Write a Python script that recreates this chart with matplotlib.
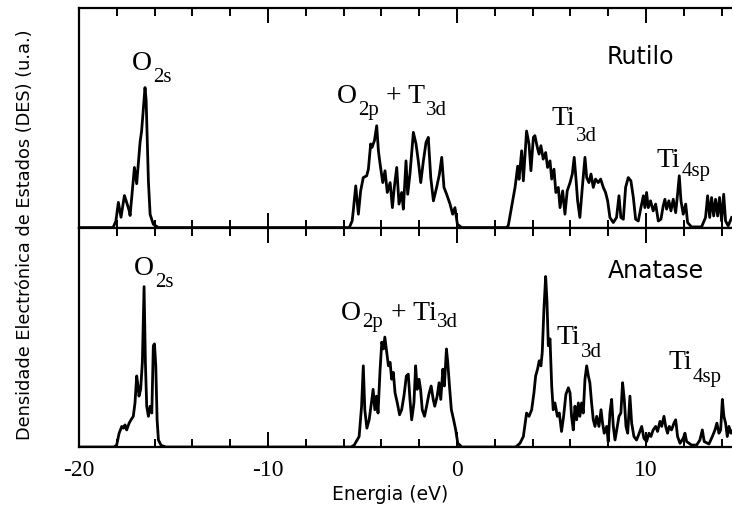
import matplotlib
matplotlib.use('Agg')
import matplotlib.pyplot as plt
from matplotlib.ticker import MultipleLocator

# density of states (arbitrary units, 0-100 = panel height)
rutile_e = [-20, -18.2, -18.05, -17.92, -17.78, -17.6, -17.5, -17.35, -17.3, -17.07, -16.95,
            -16.77, -16.69, -16.51, -16.45, -16.33, -16.24, -16.07, -15.8,
            -5.7, -5.55, -5.49, -5.36, -5.22, -5.1, -4.96, -4.78, -4.69, -4.57, -4.5, -4.37,
            -4.25, -4.16, -4.07, -3.93, -3.81, -3.69, -3.54, -3.42, -3.32, -3.19, -3.07,
            -2.93, -2.84, -2.70, -2.61, -2.49, -2.31, -2.17, -2.05, -1.92, -1.78, -1.64,
            -1.52, -1.39, -1.25, -1.08, -0.93, -0.81, -0.69, -0.55, -0.37, -0.23, -0.11,
            0.02, 0.25,
            2.6, 2.71, 3.07, 3.21, 3.28, 3.42, 3.51, 3.68, 3.81, 3.91, 4.04, 4.12, 4.25,
            4.34, 4.44, 4.56, 4.69, 4.79, 4.92, 5.01, 5.13, 5.23, 5.36, 5.45, 5.59, 5.71,
            5.83, 5.98, 6.10, 6.20, 6.29, 6.38, 6.50, 6.63, 6.77, 6.86, 6.98, 7.09, 7.21,
            7.33, 7.47, 7.60, 7.74, 7.86, 7.97, 8.09, 8.27, 8.44, 8.57, 8.67, 8.80, 8.92,
            9.06, 9.20, 9.33, 9.45, 9.59, 9.73, 9.86, 9.94, 10.03, 10.12, 10.24, 10.38,
            10.51, 10.65, 10.79, 10.91, 11.00, 11.09, 11.21, 11.32, 11.44, 11.57, 11.67,
            11.76, 11.85, 11.97, 12.10, 12.20, 12.41, 12.94, 13.15, 13.26, 13.37, 13.47,
            13.58, 13.68, 13.79, 13.89, 14.0, 14.11, 14.21, 14.35, 14.53]
rutile_dos = [0, 0, 3, 11.5, 4.7, 14.6, 12, 7.8, 5.5, 27.4, 20,
              39, 44, 63.8, 58, 21, 6, 1.5, 0,
              0, 3, 7.6, 19.0, 6.1, 16.7, 22.8, 23.6, 26.6, 38.1, 36.5, 39.6,
              46.4, 35.0, 28.9, 20.5, 25.9, 16.0, 20.5, 9.1, 18.3, 27.4, 10.7,
              16.0, 8.4, 30.4, 15.2, 24.4, 43.4, 38.1, 30.4, 20.5, 30.4, 38.8,
              41.1, 22.8, 12.2, 18.3, 24.4, 32.0, 18.3, 15.2, 10.7, 6.1, 9.1,
              1.5, 0,
              0, 0.8, 18.3, 28, 22, 35, 21.3, 44, 38, 25.9, 41.1, 41.9, 36.5,
              33.5, 37.3, 31.2, 34.2, 27.4, 30.4, 22.1, 26.6, 16, 18.3, 9.1, 16.7, 6.1,
              16.7, 20.5, 24.4, 32, 22.8, 12.2, 4.6, 18.3, 32, 22.8, 20.5, 24.4, 18.3,
              22.1, 20.5, 22.1, 18.3, 16, 12.2, 4.6, 2.3, 4.6, 14.5, 4.6, 3.8, 18.3,
              22.8, 21.3, 13.7, 3.8, 3.0, 9.1, 14.5, 9.1, 16, 9.1, 12.2, 7.6,
              10.7, 3.0, 3.8, 9.9, 12.9, 8.4, 12.2, 7.6, 12.9, 6.8, 15.2,
              23.6, 12.2, 6.1, 10.7, 2.3, 0.3, 0.3, 4.6, 14.5, 4.6, 13.7,
              5.3, 12.9, 5.3, 13.7, 3, 15.2, 3, 0.8, 4.6]

anatase_e = [-20, -18.15, -18.01, -17.88, -17.74, -17.65, -17.57, -17.48, -17.35, -17.25,
             -17.13, -17.04, -16.95, -16.88, -16.83, -16.74, -16.65, -16.56, -16.49, -16.42,
             -16.33, -16.24, -16.15, -16.07, -16.01, -15.94, -15.87, -15.80, -15.66, -15.4,
             -5.6, -5.44, -5.18, -5.05, -4.96, -4.88, -4.77, -4.65, -4.53, -4.44, -4.35,
             -4.26, -4.18, -4.07, -3.98, -3.89, -3.82, -3.74, -3.63, -3.54, -3.46, -3.37,
             -3.28, -3.16, -3.04, -2.93, -2.81, -2.68, -2.58, -2.49, -2.40, -2.28, -2.19,
             -2.11, -2.01, -1.93, -1.84, -1.72, -1.61, -1.49, -1.37, -1.26, -1.18, -1.05,
             -0.95, -0.86, -0.75, -0.67, -0.56, -0.49, -0.40, -0.30, -0.18, -0.07, 0.04, 0.26,
             3.1, 3.33, 3.51, 3.68, 3.81, 3.95, 4.07, 4.16, 4.26, 4.35, 4.44, 4.51, 4.60,
             4.69, 4.76, 4.83, 4.92, 5.01, 5.09, 5.18, 5.31, 5.41, 5.53, 5.64, 5.76, 5.89,
             5.98, 6.06, 6.15, 6.24, 6.33, 6.42, 6.50, 6.59, 6.68, 6.77, 6.86, 6.95, 7.03,
             7.12, 7.21, 7.30, 7.39, 7.51, 7.62, 7.70, 7.79, 7.92, 8.00, 8.09, 8.18, 8.27,
             8.36, 8.48, 8.57, 8.67, 8.76, 8.85, 8.94, 9.03, 9.15, 9.24, 9.36, 9.50, 9.64,
             9.77, 9.89, 10.03, 10.16, 10.26, 10.38, 10.51, 10.61, 10.74, 10.83, 10.95,
             11.04, 11.14, 11.23, 11.35, 11.48, 11.57, 11.67, 11.80, 11.97, 12.06, 12.15,
             12.41, 12.68, 12.85, 12.98, 13.08, 13.33, 13.51, 13.65, 13.75, 13.86, 13.95,
             14.04, 14.12, 14.21, 14.30, 14.39, 14.49, 14.60]
anatase_dos = [0, 0, 0.9, 6.3, 9.4, 8.6, 10.1, 7.8, 10.9, 12.4,
               14, 20.1, 32.4, 27.8, 23.2, 26.3, 38.6, 73.1, 38.6, 18.6,
               14, 18.6, 15.5, 46.2, 47, 37, 12.4, 3.2, 0.8, 0,
               0, 0.9, 4.8, 18.6, 37, 17, 8.6, 12.4, 20.1, 26.3, 17,
               23.2, 15.5, 35.5, 47.8, 44.7, 50.1, 44.7, 37, 38.6, 30.9, 34,
               24.7, 20.1, 14.7, 17, 23.2, 32.4, 33.2, 21.7, 12.4, 20.1, 37,
               26.3, 30.9, 26.3, 17, 14, 18.6, 24, 27.8, 21.7, 18.6, 23.2,
               29.3, 21.7, 35.5, 27.8, 44.7, 38.6, 27.8, 17, 12.4, 7.8, 1.7, 0,
               0, 1.7, 4.8, 15.5, 14, 17, 24.7, 32.4, 35.5, 39.3, 37, 43.2, 63.1,
               77.7, 66.2, 46.2, 49.3, 27.8, 17, 20.1, 14, 15.5, 7.1, 14, 24, 27,
               24.7, 14, 7.8, 18.6, 12.4, 20.1, 14, 20.1, 15.5, 30.9, 37, 32.4, 29.3,
               20.1, 12.4, 9.4, 14, 9.4, 17, 10.9, 6.3, 9.4, 2.5, 15.5, 21.7, 9.4,
               3.2, 9.4, 14, 15.5, 29.3, 21.7, 9.4, 6.3, 23.2, 10.9, 4.8, 3.2, 6.3,
               9.4, 4, 2.5, 6.3, 4.8, 7.8, 9.4, 7.1, 11.7, 9.4, 14,
               9.4, 6.3, 9.4, 7.8, 10.9, 12.4, 4.8, 1.7, 4, 6.3, 2.5,
               0.9, 0.9, 3.2, 7.8, 2.5, 1.4, 4.8, 7.8, 10.9, 6.3, 7.8,
               21.7, 14, 10.9, 4.8, 9.4, 6.3, 7.8]

phase_names = ['Rutilo', 'Anatase']
phase_pos = [(7.92, 74.7), (8.0, 77.0)]
# peak labels: (pieces alternating normal / subscript, energy, height, subscript drop in px)
rutile_labels = [(['O', '2s'], -17.2, 71.7, 12),
                 (['O', '2p', ' + T', '3d'], -6.37, 56.6, 12),
                 (['Ti', '3d'], 5.0, 46.6, 16),
                 (['Ti', '4sp'], 10.56, 27.5, 9)]
anatase_labels = [(['O', '2s'], -17.1, 78.5, 12),
                  (['O', '2p', ' + Ti', '3d'], -6.15, 57.7, 7),
                  (['Ti', '3d'], 5.27, 47.0, 13),
                  (['Ti', '4sp'], 11.18, 35.5, 13)]

# serif by default (tick labels and peak labels); sans texts name their family
plt.rcParams['font.family'] = 'Liberation Serif'
plt.rcParams['axes.unicode_minus'] = False
sans = 'DejaVu Sans'

fig, axes = plt.subplots(2, 1, sharex=True, figsize=(7.32, 5.08), dpi=100)
fig.subplots_adjust(left=0.108, right=1.0, top=0.984, bottom=0.12, hspace=0)

series = [(rutile_e, rutile_dos), (anatase_e, anatase_dos)]
for ax, (e, dos), name, pos in zip(axes, series, phase_names, phase_pos):
    ax.plot(e, dos, color='black', lw=2.0)
    ax.set_xlim(-20, 14.55)
    ax.set_ylim(0, 100)
    ax.set_yticks([])
    ax.spines['right'].set_visible(False)
    for s in ['left', 'top', 'bottom']:
        ax.spines[s].set_linewidth(1.6)
    ax.xaxis.set_major_locator(MultipleLocator(10))
    ax.xaxis.set_minor_locator(MultipleLocator(2))
    ax.tick_params(axis='x', which='both', direction='in', top=True, bottom=True, width=1.4)
    ax.tick_params(axis='x', which='major', length=11, pad=9, labelsize=17)
    ax.tick_params(axis='x', which='minor', length=5.5)
    ax.text(pos[0], pos[1], name, fontsize=17, family=sans, ha='left', va='baseline')

axes[0].tick_params(axis='x', labelbottom=False)
axes[1].set_xlabel('Energia (eV)', fontsize=13.5, family=sans)
axes[1].xaxis.set_label_coords(0.476, -0.175)

fig.text(0.034, 0.539, 'Densidade Electrónica de Estados (DES) (u.a.)', rotation=90,
         ha='center', va='center', fontsize=12.75, family=sans)

# peak labels with low-set subscripts, pieces placed one after another in pixels
renderer = fig.canvas.get_renderer()
W, H = fig.bbox.width, fig.bbox.height
for ax, labels in zip(axes, [rutile_labels, anatase_labels]):
    for pieces, x, y, drop in labels:
        px, py = ax.transData.transform((x, y))
        for i, s in enumerate(pieces):
            sub = i % 2 == 1
            t = fig.text(px / W, (py - (drop if sub else 0)) / H, s,
                         fontsize=15 if sub else 20, ha='left', va='baseline')
            px = t.get_window_extent(renderer).x1 + 1

fig.savefig('out.png', dpi=100)
